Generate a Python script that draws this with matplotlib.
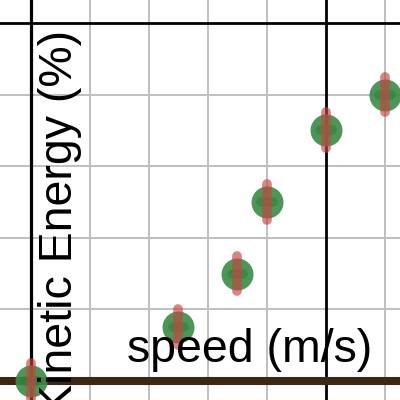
import numpy as np
import matplotlib
matplotlib.use('Agg')
import matplotlib.pyplot as plt

# measured points
speed = [0, 2.5, 3.5, 4, 5, 6]
energy = [0, 0.75, 1.5, 2.5, 3.5, 4.0]
energy_err = [0.25, 0.25, 0.25, 0.25, 0.25, 0.25]
speed_err = [0.1, 0.1, 0.1, 0.1, 0.1, 0.1]
grid_x = [1, 2, 3, 4, 6]
grid_y = [1, 2, 3, 4]

plt.rcParams['font.family'] = ['Liberation Sans', 'DejaVu Sans']

fig = plt.figure(figsize=(4, 4), dpi=100)
ax = fig.add_axes([0, 0, 1, 1])
ax.set_xlim(-0.525, 6.254)
ax.set_ylim(-0.265, 5.32)
ax.axis('off')

for gx in grid_x:
    ax.axvline(gx, color='#bfbfbf', lw=1.4, zorder=1)
for gy in grid_y:
    ax.axhline(gy, color='#bfbfbf', lw=1.4, zorder=1)
ax.axvline(0, color='black', lw=2.3, zorder=2)
ax.axvline(5, color='black', lw=2.0, zorder=2)
ax.axhline(5, color='black', lw=2.0, zorder=2)

fig.text(127/400, 1-362/400, 'speed (m/s)', fontsize=33.5, ha='left', va='baseline', zorder=3)
fig.text(72/400, 1-30/400, 'Kinetic Energy (%)', fontsize=33.5, rotation=90,
         rotation_mode='anchor', ha='right', va='baseline', zorder=3)

ax.axhline(0, color='#3b2812', lw=5.8, zorder=4)

ax.plot(speed, energy, 'o', color='#388c46', ms=23, alpha=0.9, mec='none', zorder=5)
eh = ax.errorbar(speed, energy, xerr=speed_err, fmt='none', ecolor='#2f7a3b', elinewidth=7,
                 alpha=0.5, capsize=0, zorder=6)
eh.lines[2][0].set_capstyle('round')
eb = ax.errorbar(speed, energy, yerr=energy_err, fmt='none', ecolor='#c74440', elinewidth=7,
                 alpha=0.65, capsize=0, zorder=7)
eb.lines[2][0].set_capstyle('round')

fig.savefig('out.png', dpi=100)
